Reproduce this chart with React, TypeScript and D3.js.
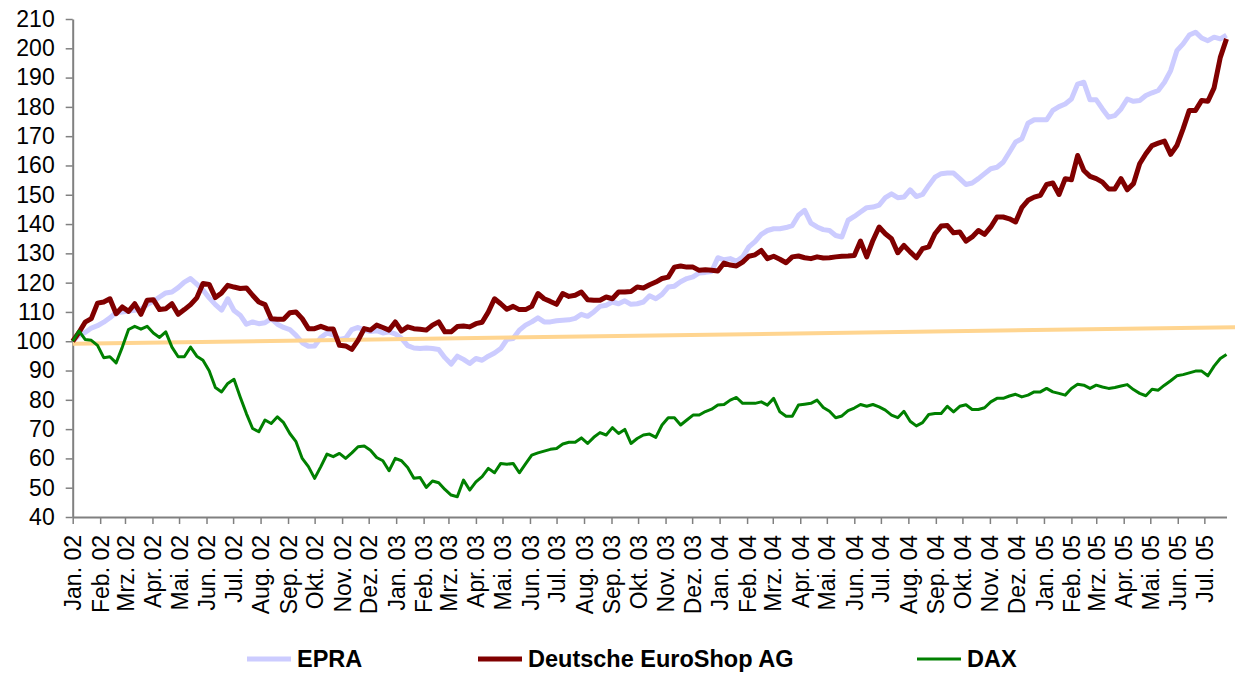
import React, { useEffect, useRef } from "react";
import { select, scaleUtc, scaleLinear, line, utcDay, utcMonth, axisLeft, axisBottom } from "d3";

// weekly index values, first week = Jan 2002 (=100)
const startDate = new Date(Date.UTC(2002, 0, 1));
const monthNames = ["Jan.", "Feb.", "Mrz.", "Apr.", "Mai.", "Jun.", "Jul.", "Aug.", "Sep.", "Okt.", "Nov.", "Dez."];
const yTicks = [40, 50, 60, 70, 80, 90, 100, 110, 120, 130, 140, 150, 160, 170, 180, 190, 200, 210];

const epra = [
  100, 102, 103, 104.5, 105.3, 106.5, 108, 109.8, 110, 110.3,
  110.6, 111, 112.5, 113.6, 115.1, 116.5, 116.8, 118.3, 120.2, 121.4,
  119.5, 117.5, 114.8, 112.5, 110.6, 114.5, 110.5, 108.9, 105.8, 106.6,
  106, 106.3, 107.7, 105.8, 104.7, 104, 102, 99.5, 98.3, 98.4,
  101.3, 102.8, 102.2, 100.6, 101, 104, 104.7, 103.8, 103.3, 103.6,
  102.8, 103.2, 102.5, 101, 98.5, 97.7, 97.5, 97.7, 97.5, 97.2,
  94.4, 92.2, 94.9, 93.8, 92.4, 94.1, 93.5, 94.9, 96, 97.5,
  100.6, 100.9, 103.8, 105.5, 106.6, 108, 106.6, 106.6, 107, 107.2,
  107.3, 107.8, 109.2, 108.5, 110, 111.9, 112.3, 113.4, 112.8, 113.8,
  112.6, 112.8, 113.4, 115.5, 114.5, 116, 118.5, 118.8, 120.3, 121.4,
  122, 123.3, 123.5, 123.8, 128.5, 127.8, 128.2, 127.3, 128.8, 132.2,
  134, 136.5, 137.8, 138.4, 138.4, 138.8, 139.5, 143, 144.7, 140.3,
  139, 138.1, 137.8, 136.1, 135.6, 141.3, 142.6, 144.1, 145.6, 145.8,
  146.5, 149, 150.3, 149, 149.2, 151.7, 149.4, 150.1, 153.2, 156,
  157.2, 157.4, 157.4, 155.5, 153.5, 154, 155.5, 157.2, 158.9, 159.4,
  161.1, 164.5, 168, 169.1, 174.4, 175.6, 175.6, 175.6, 178.8, 180.1,
  181, 182.7, 187.8, 188.4, 182.4, 182.4, 179.3, 176.5, 177, 179.3,
  182.7, 181.9, 182.2, 183.9, 184.8, 185.6, 188.4, 192.4, 199.2, 201.5,
  204.5, 205.5, 203.5, 202.6, 203.8, 203.2, 204.5,
];

const deutscheEuroShop = [
  100, 103, 106.5, 107.7, 113, 113.4, 114.5, 109.4, 111.7, 110.2,
  112.8, 109.2, 114, 114.2, 110.8, 111.1, 112.8, 109.2, 110.8, 112.5,
  114.8, 119.7, 119.4, 114.9, 116.5, 119.1, 118.5, 118, 118.2, 115.7,
  113.4, 112.5, 107.7, 107.5, 107.5, 109.7, 110, 107.7, 104.3, 104.3,
  105.1, 104.3, 104.2, 98.6, 98.4, 97.2, 100.3, 104.3, 103.8, 105.5,
  104.7, 103.8, 106.6, 103.5, 104.9, 104.3, 104.1, 103.8, 105.5, 106.6,
  103.2, 103.2, 105, 105.2, 104.9, 106, 106.5, 110, 114.5, 112.8,
  110.9, 111.9, 110.8, 110.8, 111.9, 116.3, 114.5, 113.6, 112.6, 116.3,
  115.3, 115.7, 116.8, 114.2, 114, 114, 115.1, 114.5, 116.8, 116.8,
  117, 118.5, 118.2, 119.3, 120.2, 121.4, 121.9, 125.3, 125.7, 125.3,
  125.3, 124.2, 124.4, 124.2, 124, 126.7, 126, 125.7, 127, 129,
  129.5, 131, 128.2, 129, 128, 126.8, 128.8, 129.1, 128.5, 128.2,
  128.8, 128.4, 128.5, 128.8, 129, 129.1, 129.3, 134.2, 128.8, 134.4,
  139, 136.7, 135, 130.2, 132.7, 130.5, 128.5, 131.6, 132.2, 136.7,
  139.3, 139.5, 137, 137.3, 134.2, 135.6, 137.8, 136.5, 139, 142.4,
  142.4, 141.8, 140.7, 145.6, 148.1, 149.2, 149.8, 153.5, 154, 150.1,
  155.5, 155.1, 163.4, 158.3, 156.3, 155.5, 154.3, 152, 152, 155.5,
  151.7, 153.8, 160.6, 164, 166.8, 167.6, 168.3, 163.8, 166.8, 172.5,
  178.8, 178.8, 182.2, 181.9, 186.5, 196.9, 203.2,
];

const dax = [
  100, 103.5, 100.6, 100.3, 98.6, 94.4, 94.7, 92.6, 98, 104,
  105.1, 104.1, 105.1, 102.8, 101.3, 103.2, 98, 94.7, 94.7, 98,
  94.9, 93.5, 89.9, 84.2, 82.7, 85.6, 87, 81, 75.3, 70.2,
  69.1, 73.1, 71.9, 74.2, 72.2, 68.5, 65.7, 60, 57.2, 53.2,
  57.2, 61.5, 60.6, 61.7, 60, 61.9, 64, 64.2, 62.8, 60.3,
  59.2, 55.8, 60, 59.2, 56.9, 53.2, 53.5, 50.1, 52.3, 51.7,
  49.4, 47.5, 46.9, 52.6, 49.2, 52, 53.8, 56.6, 55.1, 58.3,
  58, 58.3, 55.1, 58.1, 61.1, 61.9, 62.5, 63.1, 63.4, 64.9,
  65.5, 65.5, 67, 65.1, 67.2, 68.8, 68, 70.5, 68.5, 69.9,
  65.1, 66.8, 68, 68.3, 67.2, 71.4, 73.9, 73.9, 71.4, 73.1,
  74.8, 74.8, 76, 76.8, 78.2, 78.4, 79.9, 80.8, 78.8, 78.8,
  78.8, 79.3, 78.2, 80.5, 75.9, 74.4, 74.4, 78.2, 78.5, 78.8,
  79.9, 77.4, 76.1, 73.9, 74.5, 76.3, 77.2, 78.4, 77.8, 78.4,
  77.6, 76.5, 74.8, 73.9, 76.1, 72.7, 71.1, 72.2, 75, 75.3,
  75.3, 77.8, 75.9, 77.8, 78.3, 76.7, 76.7, 77.3, 79.3, 80.5,
  80.5, 81.3, 81.9, 81, 81.6, 82.7, 82.7, 83.9, 82.7, 82.2,
  81.6, 83.9, 85.3, 85, 83.9, 85, 84.4, 83.9, 84.2, 84.7,
  85.2, 83.5, 82.2, 81.4, 83.6, 83.3, 85, 86.5, 88.2, 88.6,
  89.2, 89.8, 89.8, 88.2, 91.5, 94.1, 95.5,
];

// linear trend (not in legend)
const trendDates = [new Date(Date.UTC(2002, 0, 1)), new Date(Date.UTC(2005, 7, 5))];
const trendValues = [99.1, 104.8];

const seriesNames = ["EPRA", "Deutsche EuroShop AG", "DAX"];
const seriesColors = ["#CCCCFF", "#800000", "#008000"];
const seriesWidths = [5, 5, 3];
const seriesData = [epra, deutscheEuroShop, dax];

const FONT = "'Liberation Sans', Arial, sans-serif";

function LineChart() {
  const svgRef = useRef<SVGSVGElement>(null);

  useEffect(() => {
    const svg = select(svgRef.current);
    svg.selectAll("*").remove();

    const weeks = epra.map((_, i) => utcDay.offset(startDate, i * 7));
    const lastDate = weeks[weeks.length - 1];

    const xScale = scaleUtc().domain([startDate, lastDate]).range([72.7, 1226.5]);
    const yScale = scaleLinear().domain([40, 210]).range([517, 19]);

    // axes
    const yAxis = axisLeft(yScale).tickValues(yTicks).tickSize(7).tickSizeOuter(0).tickPadding(11);
    const gy = svg.append("g").attr("transform", "translate(72.7,0)").call(yAxis);

    const monthTicks = utcMonth.range(startDate, lastDate);
    const xAxis = axisBottom(xScale)
      .tickValues(monthTicks)
      .tickSize(7)
      .tickSizeOuter(0)
      .tickFormat((d: any) => monthNames[d.getUTCMonth()] + " " + String(d.getUTCFullYear()).slice(2));
    const gx = svg.append("g").attr("transform", "translate(0,517)").call(xAxis);
    gx.selectAll("text")
      .attr("transform", "rotate(-90)")
      .attr("x", -18)
      .attr("y", 0)
      .attr("dy", "0.35em")
      .style("text-anchor", "end");

    [gx, gy].forEach((g) => {
      g.attr("font-family", FONT).attr("font-size", 23);
      g.select(".domain").attr("stroke", "#808080").attr("stroke-width", 2);
      g.selectAll(".tick line").attr("stroke", "#808080").attr("stroke-width", 1.5);
      g.selectAll(".tick text").attr("fill", "#000");
    });

    // lines
    const lineGen = line<number>()
      .x((_, i) => xScale(weeks[i]))
      .y((d) => yScale(d));

    const drawSeries = (k: number) =>
      svg
        .append("path")
        .datum(seriesData[k])
        .attr("fill", "none")
        .attr("stroke", seriesColors[k])
        .attr("stroke-width", seriesWidths[k])
        .attr("stroke-linejoin", "round")
        .attr("d", lineGen);

    drawSeries(0);

    svg
      .append("path")
      .datum(trendValues)
      .attr("fill", "none")
      .attr("stroke", "#FFD590")
      .attr("stroke-width", 4)
      .attr(
        "d",
        line<number>()
          .x((_, i) => xScale(trendDates[i]))
          .y((d) => yScale(d))
      );

    drawSeries(1);
    drawSeries(2);

    // legend
    const legendX = [247, 478, 917];
    const legend = svg
      .append("g")
      .selectAll("g")
      .data(seriesNames)
      .join("g")
      .attr("transform", (_, i) => `translate(${legendX[i]},659)`);
    legend
      .append("line")
      .attr("x1", 0)
      .attr("x2", 44)
      .attr("stroke", (_, i) => seriesColors[i])
      .attr("stroke-width", (_, i) => (i === 2 ? 3 : 5));
    legend
      .append("text")
      .attr("x", 50)
      .attr("dy", "0.35em")
      .attr("font-family", FONT)
      .attr("font-size", 23.5)
      .attr("font-weight", "bold")
      .text((d) => d);
  }, []);

  return <svg ref={svgRef} width={1235} height={682} style={{ display: "block" }} />;
}

export default function App() {
  return (
    <div style={{ position: "fixed", left: 0, top: 0, background: "#fff" }}>
      <LineChart />
    </div>
  );
}
